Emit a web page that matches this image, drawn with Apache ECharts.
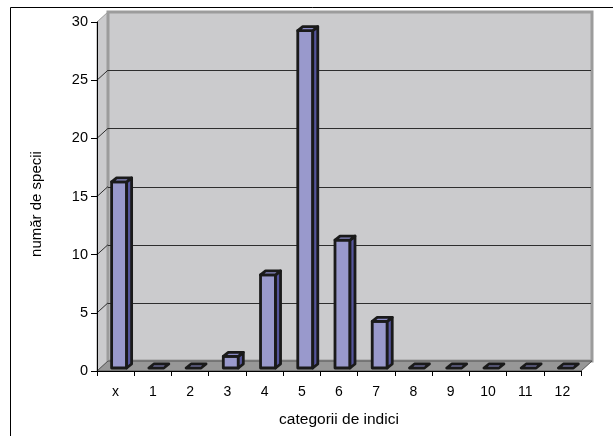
<!DOCTYPE html>
<html>
<head>
<meta charset="utf-8">
<script src="https://cdn.jsdelivr.net/npm/echarts@6/dist/echarts.min.js"></script>
<style>
  html, body { margin: 0; padding: 0; background: #fff; }
  #chart { width: 613px; height: 436px; }
</style>
</head>
<body>
<div id="chart"></div>
<script>
// Categories of indices and the number of species in each
const categories = ['x', '1', '2', '3', '4', '5', '6', '7', '8', '9', '10', '11', '12'];
const speciesCount = [16, 0, 0, 1, 8, 29, 11, 4, 0, 0, 0, 0, 0];
const yTicks = [0, 5, 10, 15, 20, 25, 30];

const FONT = 'Liberation Sans, Arial, sans-serif';
// depth of the 3-D box (walls/floor) and of each bar
const DX = 11, DY = 10;
const BAR_W = 15, BAR_DX = 5, BAR_DY = 4, BAR_OX = -4, BAR_OY = -3;

const chart = echarts.init(document.getElementById('chart'), null, { renderer: 'canvas' });

function px(v) { return Math.round(v) + 0.5; }

function renderWalls(params, api) {
  const cs = params.coordSys;
  const left = cs.x, right = cs.x + cs.width, top = cs.y, bottom = cs.y + cs.height;
  const children = [];
  // left side wall
  children.push({
    type: 'polygon',
    shape: { points: [[left, top], [left + DX, top - DY], [left + DX, bottom - DY], [left, bottom]] },
    style: { fill: '#cbcbcd', stroke: '#9b9b9b', lineWidth: 1 }
  });
  // back wall
  children.push({
    type: 'rect',
    shape: { x: left + DX, y: top - DY, width: right - left, height: bottom - top },
    style: { fill: '#cbcbcd', stroke: '#9c9c9c', lineWidth: 3 }
  });
  // floor
  children.push({
    type: 'polygon',
    shape: { points: [[left, bottom], [right, bottom], [right + DX, bottom - DY], [left + DX, bottom - DY]] },
    style: { fill: '#979797', stroke: '#555', lineWidth: 1 }
  });
  // gridlines on the back wall and the side wall
  yTicks.forEach(function (v) {
    if (v <= yTicks[0] || v >= yTicks[yTicks.length - 1]) return;
    const y = api.coord([0, v])[1];
    children.push({
      type: 'line',
      shape: { x1: left + DX, y1: px(y - DY), x2: right + DX - 1, y2: px(y - DY) },
      style: { stroke: '#2e2e2e', lineWidth: 1 }
    });
    children.push({
      type: 'line',
      shape: { x1: left, y1: y, x2: left + DX, y2: y - DY },
      style: { stroke: '#2e2e2e', lineWidth: 1 }
    });
  });
  return { type: 'group', children: children };
}

function renderBar(params, api) {
  const i = api.value(0), v = api.value(1);
  const base = api.coord([i, 0]);
  const peak = api.coord([i, v]);
  const x0 = base[0] + BAR_OX, x1 = x0 + BAR_W;
  const yb = base[1] + BAR_OY, yt = peak[1] + BAR_OY;
  const edge = { stroke: '#1a1a1a', lineWidth: 2.8, lineJoin: 'round' };
  const children = [];
  if (v > 0) {
    children.push({
      type: 'polygon',
      shape: { points: [[x0, yt], [x1, yt], [x1, yb], [x0, yb]] },
      style: Object.assign({ fill: '#9999cc' }, edge)
    });
    children.push({
      type: 'polygon',
      shape: { points: [[x1, yt], [x1 + BAR_DX, yt - BAR_DY], [x1 + BAR_DX, yb - BAR_DY], [x1, yb]] },
      style: Object.assign({ fill: '#55559c' }, edge)
    });
  }
  children.push({
    type: 'polygon',
    shape: { points: [[x0, yt], [x0 + BAR_DX, yt - BAR_DY], [x1 + BAR_DX, yt - BAR_DY], [x1, yt]] },
    style: Object.assign({ fill: '#8a8ac6' }, edge)
  });
  return { type: 'group', children: children };
}

const option = {
  backgroundColor: '#ffffff',
  animation: false,
  grid: { left: 97, top: 22, width: 484, height: 349 },
  xAxis: {
    type: 'category',
    data: categories,
    z: 10,
    axisLine: { lineStyle: { color: '#000', width: 1 } },
    axisTick: { show: true, alignWithLabel: false, length: 5, lineStyle: { color: '#000' } },
    axisLabel: { margin: 14, color: '#000', fontSize: 14, fontFamily: FONT },
    name: 'categorii de indici',
    nameLocation: 'middle',
    nameGap: 41,
    nameTextStyle: { color: '#000', fontSize: 15.5, fontFamily: FONT }
  },
  yAxis: {
    type: 'value',
    min: 0,
    max: 30,
    interval: 5,
    z: 10,
    axisLine: { show: true, lineStyle: { color: '#000', width: 1 } },
    axisTick: { show: true, length: 6, lineStyle: { color: '#000' } },
    splitLine: { show: false },
    axisLabel: { margin: 9, color: '#000', fontSize: 14.5, fontFamily: FONT }
  },
  graphic: [
    {
      type: 'rect',
      z: 100,
      shape: { x: 10.5, y: 7.5, width: 800, height: 800 },
      style: { fill: 'none', stroke: '#000', lineWidth: 1 }
    },
    {
      type: 'text',
      x: 37,
      y: 204,
      rotation: Math.PI / 2,
      style: {
        text: 'număr de specii',
        fill: '#000',
        fontSize: 15,
        fontFamily: FONT,
        textAlign: 'center',
        textVerticalAlign: 'middle'
      }
    }
  ],
  series: [
    {
      type: 'custom',
      silent: true,
      z: 1,
      renderItem: renderWalls,
      data: [[0, 0]]
    },
    {
      type: 'custom',
      z: 3,
      renderItem: renderBar,
      data: speciesCount.map(function (v, i) { return [i, v]; })
    }
  ]
};

chart.setOption(option);
</script>
</body>
</html>
